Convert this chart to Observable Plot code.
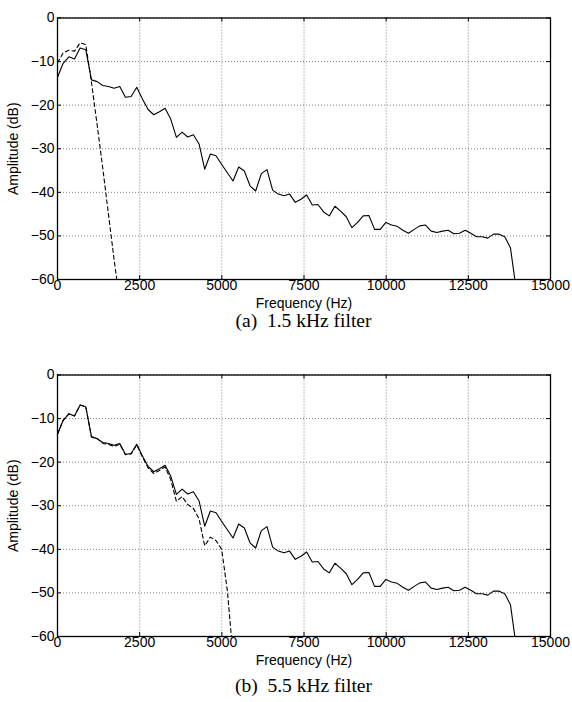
<!DOCTYPE html>
<html>
<head>
<meta charset="utf-8">
<script src="https://cdn.jsdelivr.net/npm/d3@7"></script>
<script src="https://cdn.jsdelivr.net/npm/@observablehq/plot@0.6"></script>
<style>
  html, body { margin: 0; padding: 0; background: #fff; }
  #wrap { position: relative; width: 572px; height: 702px; overflow: hidden; background: #fff; }
  .panel { position: absolute; left: 0; }
  .cap { position: absolute; left: 0; width: 607px; text-align: center; font-family: "Liberation Serif", "Times New Roman", serif; font-size: 19.5px; line-height: 16px; white-space: pre; color: #000; }
</style>
</head>
<body>
<div id="wrap"></div>
<script>
// Frequency bins (Hz)
const freqs = [0, 172, 345, 517, 689, 861, 1034, 1206, 1378, 1550, 1723, 1895, 2067, 2239, 2412, 2584, 2756, 2929, 3101, 3273, 3445, 3618, 3790, 3962, 4134, 4307, 4479, 4651, 4823, 4996, 5168, 5340, 5513, 5685, 5857, 6029, 6202, 6374, 6546, 6718, 6891, 7063, 7235, 7407, 7580, 7752, 7924, 8097, 8269, 8441, 8613, 8786, 8958, 9130, 9302, 9475, 9647, 9819, 9991, 10164, 10336, 10508, 10680, 10853, 11025, 11197, 11370, 11542, 11714, 11886, 12059, 12231, 12403, 12575, 12748, 12920, 13092, 13264, 13437, 13609, 13781, 13954];

// Original spectrum (solid line), dB
const spectrumDb = [-13.6, -10.4, -8.9, -9.4, -6.9, -7.3, -14.2, -14.6, -15.5, -15.7, -16.1, -15.7, -18.2, -18.0, -15.9, -18.6, -21.0, -22.2, -21.5, -20.7, -23.2, -27.4, -26.2, -27.3, -26.8, -28.9, -34.7, -31.2, -31.6, -33.6, -35.5, -37.4, -34.2, -35.1, -38.5, -39.7, -35.7, -34.8, -39.5, -40.4, -40.8, -40.4, -42.3, -41.6, -40.6, -42.9, -42.8, -44.5, -45.4, -43.2, -44.3, -45.6, -48.1, -46.9, -45.4, -45.3, -48.5, -48.5, -46.9, -47.5, -47.8, -48.7, -49.4, -48.5, -47.7, -47.5, -48.9, -49.2, -48.9, -48.7, -49.5, -49.4, -48.7, -49.4, -50.2, -50.2, -50.5, -49.6, -49.6, -50.2, -52.7, -62.1];

// Filtered spectrum, 1.5 kHz filter (dashed), dB
const filtered15Db = [-10.3, -8.0, -7.4, -7.6, -5.7, -6.1, -14.8, -24.5, -34.5, -45.0, -55.5, -65.0];

// Filtered spectrum, 5.5 kHz filter (dashed), dB
const filtered55Db = [-13.6, -10.4, -8.9, -9.4, -6.9, -7.3, -14.2, -14.6, -15.7, -15.9, -16.4, -15.9, -18.3, -18.1, -16.0, -18.8, -21.3, -22.6, -21.9, -21.1, -24.0, -29.0, -27.9, -29.7, -30.6, -33.0, -39.2, -37.2, -38.0, -40.0, -49.5, -64.3];

const xTicks = [0, 2500, 5000, 7500, 10000, 12500, 15000];
const yTicks = [-60, -50, -40, -30, -20, -10, 0];

const xLabel = "Frequency (Hz)";
const yLabel = "Amplitude (dB)";
const captions = ["(a)  1.5 kHz filter", "(b)  5.5 kHz filter"];

const W = 572, H = 320, mT = 17.5, mB = 41, mL = 57, mR = 22;
const ih = H - mT - mB, iw = W - mL - mR;
const tickLen = 4;

const fmt = d => d < 0 ? "\u2212" + Math.abs(d) : String(d);

function panel(dashedDb) {
  const solid = freqs.map((f, i) => ({f, db: spectrumDb[i]}));
  const dashed = dashedDb.map((v, i) => ({f: freqs[i], db: v}));
  return Plot.plot({
    width: W, height: H,
    marginTop: mT, marginBottom: mB, marginLeft: mL, marginRight: mR,
    x: {domain: [0, 15000]},
    y: {domain: [-60, 0]},
    style: {fontFamily: "'Liberation Sans', Arial, Helvetica, sans-serif", fontSize: "14px", color: "#000", background: "transparent", overflow: "visible"},
    marks: [
      Plot.gridX(xTicks, {stroke: "#808080", strokeOpacity: 1, strokeWidth: 1, strokeDasharray: "1,2"}),
      Plot.gridY(yTicks, {stroke: "#808080", strokeOpacity: 1, strokeWidth: 1, strokeDasharray: "1,2"}),
      Plot.line(solid, {x: "f", y: "db", stroke: "#000", strokeWidth: 1.1, clip: true}),
      Plot.line(dashed, {x: "f", y: "db", stroke: "#000", strokeWidth: 1.1, strokeDasharray: "4,3", clip: true}),
      Plot.ruleX(xTicks, {stroke: "#000", insetTop: ih - tickLen}),
      Plot.ruleX(xTicks, {stroke: "#000", insetBottom: ih - tickLen}),
      Plot.ruleY(yTicks, {stroke: "#000", insetRight: iw - tickLen}),
      Plot.ruleY(yTicks, {stroke: "#000", insetLeft: iw - tickLen}),
      Plot.frame({stroke: "#000", strokeWidth: 1.3}),
      Plot.axisX(xTicks, {tickSize: 0, tickPadding: 1, tickFormat: d => String(d), label: xLabel, labelAnchor: "center", labelArrow: "none", labelOffset: 28}),
      Plot.axisY(yTicks, {tickSize: 0, tickPadding: 3, tickFormat: fmt, label: yLabel, labelAnchor: "center", labelArrow: "none", labelOffset: 49})
    ]
  });
}

const wrap = document.getElementById("wrap");
const p1 = panel(filtered15Db);
p1.classList.add("panel"); p1.style.top = "0px";
wrap.appendChild(p1);
const c1 = document.createElement("div");
c1.className = "cap"; c1.style.top = "313px"; c1.textContent = captions[0];
wrap.appendChild(c1);

const p2 = panel(filtered55Db);
p2.classList.add("panel"); p2.style.top = "356.5px";
wrap.appendChild(p2);
const c2 = document.createElement("div");
c2.className = "cap"; c2.style.top = "678px"; c2.textContent = captions[1];
wrap.appendChild(c2);
</script>
</body>
</html>
